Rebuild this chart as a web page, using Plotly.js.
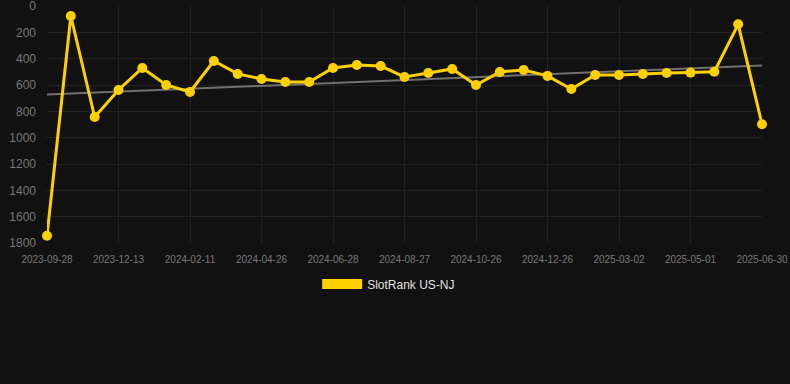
<!DOCTYPE html>
<html><head><meta charset="utf-8">
<script src="https://cdn.plot.ly/plotly-3.0.1.min.js"></script>
<style>html,body{margin:0;padding:0;background:#111111;}#chart{width:790px;height:384px;}</style>
</head><body><div id="chart"></div>
<script>
const dates = ["2023-09-28","2023-10-24","2023-11-18","2023-12-13","2024-01-02","2024-01-22","2024-02-11","2024-03-06","2024-04-01","2024-04-26","2024-05-17","2024-06-07","2024-06-28","2024-07-18","2024-08-07","2024-08-27","2024-09-16","2024-10-06","2024-10-26","2024-11-15","2024-12-06","2024-12-26","2025-01-17","2025-02-08","2025-03-02","2025-03-22","2025-04-11","2025-05-01","2025-05-21","2025-06-10","2025-06-30"];
const ranks = [1745,76,843,638,471,600,653,418,516,554,577,577,471,448,456,539,509,478,600,501,486,531,630,524,524,516,509,506,499,139,898];
const tickLabels = dates.filter((d,i)=>i%3===0);
const yTicks = [0,200,400,600,800,1000,1200,1400,1600,1800];
const seriesName = "SlotRank US-NJ";

// linear trend (least squares over index)
const n = ranks.length;
const xs = ranks.map((_,i)=>i);
const mx = xs.reduce((a,b)=>a+b,0)/n, my = ranks.reduce((a,b)=>a+b,0)/n;
let sxy=0,sxx=0; xs.forEach((x,i)=>{sxy+=(x-mx)*(ranks[i]-my);sxx+=(x-mx)*(x-mx);});
const slope=sxy/sxx, icpt=my-slope*mx;
const trend = xs.map(x=>icpt+slope*x);

const gold = "#FFD000";
const traces = [
 {x:dates,y:trend,type:"scatter",mode:"lines",line:{color:"#707070",width:2},showlegend:false,hoverinfo:"skip",cliponaxis:false},
 {x:dates,y:ranks,type:"scatter",mode:"lines+markers",line:{color:gold,width:3},marker:{color:gold,size:10},showlegend:false,cliponaxis:false},
 {x:[null],y:[null],type:"scatter",mode:"lines",name:seriesName,line:{color:gold,width:12},showlegend:true}
];
const layout = {
 width:790,height:384,
 paper_bgcolor:"#111111",plot_bgcolor:"#111111",
 margin:{l:47,r:28,t:6,b:141},
 font:{family:"Liberation Sans, Arial, sans-serif",color:"#777777"},
 xaxis:{type:"category",tickmode:"array",tickvals:tickLabels,ticktext:tickLabels,range:[0,n-1],
   showgrid:true,gridcolor:"#222222",gridwidth:1,zeroline:false,showline:false,ticks:"",
   tickfont:{size:10,color:"#777777"},tickangle:0,ticklabelstandoff:9,ticklabeloverflow:"allow",automargin:false},
 yaxis:{range:[1800,0],tickmode:"array",tickvals:yTicks,ticktext:yTicks.map(String),showgrid:true,gridcolor:"#222222",zeroline:false,showline:false,ticks:"",
   tickfont:{size:12,color:"#777777"},ticklabelstandoff:10,ticklabeloverflow:"allow",automargin:false},
 legend:{orientation:"h",xref:"container",yref:"container",x:0.492,xanchor:"center",y:0.298,yanchor:"top",
   font:{size:12,color:"#e0e0e0"},itemwidth:40,bgcolor:"rgba(0,0,0,0)"},
 showlegend:true
};
Plotly.newPlot("chart",traces,layout,{displayModeBar:false,staticPlot:true});
</script></body></html>
